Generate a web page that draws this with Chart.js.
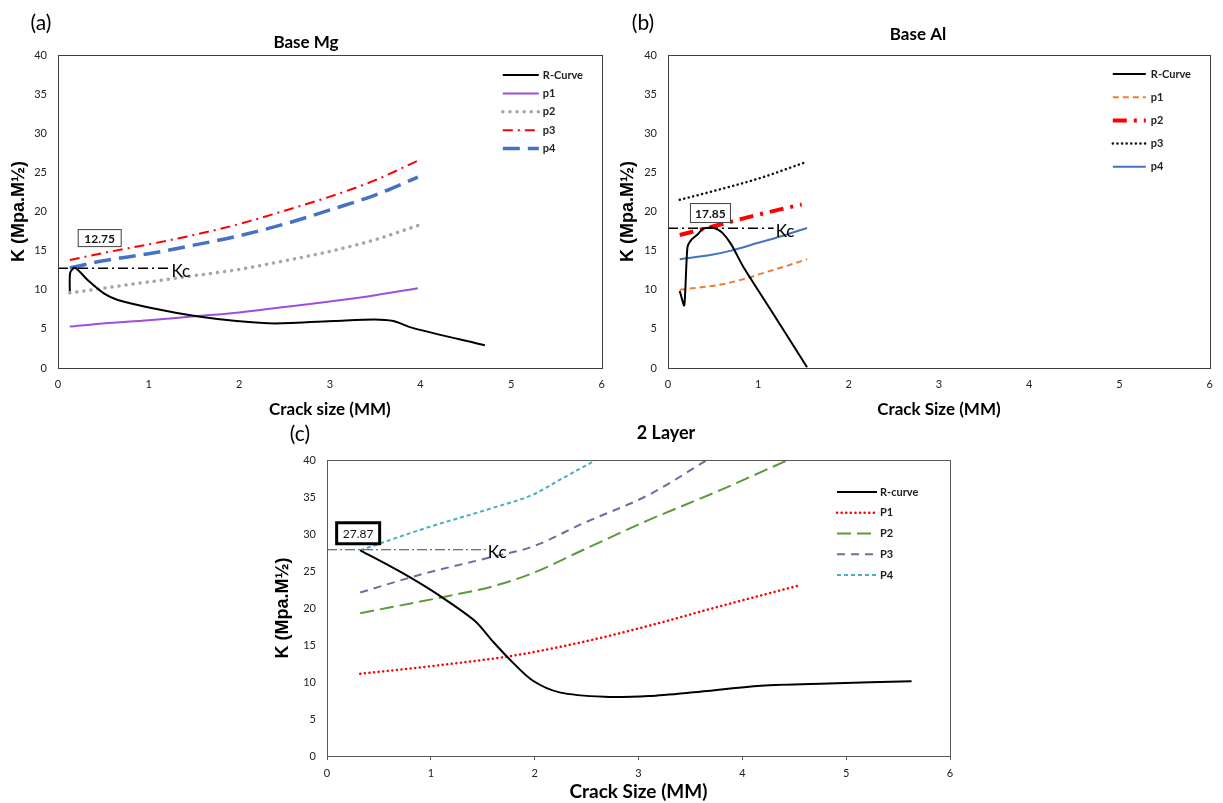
<!DOCTYPE html>
<html>
<head>
<meta charset="utf-8">
<script src="https://cdn.jsdelivr.net/npm/chart.js@4.4.1/dist/chart.umd.min.js"></script>
<style>
html, body { margin: 0; padding: 0; background: #fff; }
body { width: 1223px; height: 803px; position: relative; overflow: hidden; }
.panel { position: absolute; }
</style>
</head>
<body>
<div class="panel" style="left:0;top:0"><canvas id="chartMg" width="615" height="420"></canvas></div>
<div class="panel" style="left:615px;top:0"><canvas id="chartAl" width="608" height="420"></canvas></div>
<div class="panel" style="left:270px;top:420px"><canvas id="chartLayer" width="700" height="383"></canvas></div>
<script>
// (a) Base Mg
const mgCurveX = [0.13, 0.135, 0.19, 0.33, 0.51, 0.66, 1.1, 1.53, 1.97, 2.4, 3.05, 3.49, 3.7, 3.92, 4.71];
const mgCurveK = [9.8, 12.2, 12.8, 11.2, 9.5, 8.7, 7.5, 6.6, 6.0, 5.7, 6.0, 6.2, 6.0, 5.1, 2.9];
const mgLoadX = [0.13, 0.5, 1, 1.5, 2, 2.5, 3, 3.5, 3.97];
const mgP1 = [5.3, 5.7, 6.1, 6.6, 7.1, 7.8, 8.5, 9.3, 10.2];
const mgP2 = [9.6, 10.2, 11.0, 11.8, 12.6, 13.7, 14.9, 16.4, 18.2];
const mgP3 = [13.8, 14.7, 15.8, 17.0, 18.4, 20.1, 21.9, 24.0, 26.5];
const mgP4 = [12.8, 13.7, 14.6, 15.7, 16.9, 18.4, 20.2, 22.1, 24.4];
const mgKc = 12.75, mgKcEnd = 1.23;

// (b) Base Al
const alCurveX = [0.13, 0.18, 0.215, 0.26, 0.33, 0.375, 0.42, 0.51, 0.6, 0.7, 0.84, 1.2, 1.54];
const alCurveK = [9.85, 8.0, 15.4, 16.4, 17.1, 17.7, 17.9, 17.9, 17.3, 15.8, 12.8, 6.3, 0.1];
const alP1X = [0.13, 0.35, 0.6, 0.85, 1.1, 1.3, 1.54];
const alP1 = [10.0, 10.3, 10.7, 11.4, 12.3, 13.0, 13.9];
const alP2X = [0.13, 0.6, 1.0, 1.48];
const alP2 = [17.0, 18.4, 19.6, 20.9];
const alP3X = [0.13, 0.5, 1.0, 1.5];
const alP3 = [21.5, 22.6, 24.2, 26.2];
const alP4X = [0.13, 0.5, 0.7, 1.0, 1.3, 1.54];
const alP4 = [13.9, 14.5, 15.0, 16.0, 17.0, 17.9];
const alKc = 17.85, alKcEnd = 1.17;

// (c) 2 Layer
const lyCurveX = [0.32, 0.73, 1.08, 1.42, 1.59, 1.77, 1.98, 2.24, 2.67, 3.1, 3.53, 4.18, 4.83, 5.63];
const lyCurveK = [27.8, 24.7, 21.7, 18.3, 15.6, 12.9, 10.2, 8.6, 8.0, 8.1, 8.6, 9.5, 9.8, 10.1];
const lyP1X = [0.32, 1.16, 1.81, 2.46, 3.1, 3.75, 4.56];
const lyP1 = [11.1, 12.4, 13.6, 15.4, 17.6, 20.1, 23.1];
const lyP2X = [0.32, 1.16, 1.59, 1.98, 2.46, 3.1, 3.75, 4.44];
const lyP2 = [19.3, 21.6, 22.9, 24.7, 27.8, 31.9, 35.7, 40];
const lyP3X = [0.32, 0.95, 1.59, 1.98, 2.46, 3.1, 3.66];
const lyP3 = [22.1, 24.7, 26.9, 28.3, 31.4, 35.3, 40];
const lyP4X = [0.32, 0.95, 1.59, 1.98, 2.24, 2.59];
const lyP4 = [27.8, 30.8, 33.5, 35.3, 37.3, 40];
const lyKc = 27.87, lyKcEnd = 1.53;

const xTicks = [0, 6, 1];
const yTicks = [0, 40, 5];

const pts = (xs, ys) => xs.map((v, i) => ({x: v, y: ys[i]}));
const flat = (xs, k) => xs.map(v => ({x: v, y: k}));

// titles, frame, legend, Kc label and value box
const decor = {
  id: 'decor',
  afterDraw(chart, args, o) {
    const {ctx, chartArea: a, scales: {x, y}} = chart;
    ctx.save();
    ctx.setLineDash([]);
    ctx.strokeStyle = o.frame;
    ctx.lineWidth = 1;
    ctx.strokeRect(Math.round(a.left) + 0.5, Math.round(a.top) + 0.5, Math.round(a.right - a.left), Math.round(a.bottom - a.top));

    ctx.fillStyle = '#000';
    ctx.textAlign = 'center';
    ctx.textBaseline = 'middle';
    ctx.font = o.titleFont;
    ctx.fillText(o.title, o.titlePos[0], o.titlePos[1]);
    ctx.font = '21px Lato';
    ctx.fillText(o.letter, o.letterPos[0], o.letterPos[1]);

    // legend
    const lg = o.legend;
    let row = 0;
    ctx.textAlign = 'left';
    ctx.font = 'bold 11px Lato';
    chart.data.datasets.forEach(ds => {
      if (!ds.label) return;
      const yy = a.top + lg.top + row * lg.gap;
      ctx.strokeStyle = ds.borderColor;
      ctx.lineWidth = ds.borderWidth;
      ctx.lineCap = ds.borderCapStyle || 'butt';
      ctx.setLineDash(ds.borderDash || []);
      ctx.beginPath();
      ctx.moveTo(a.right - lg.start, yy);
      ctx.lineTo(a.right - lg.end, yy);
      ctx.stroke();
      ctx.fillStyle = '#222';
      ctx.fillText(ds.label, a.right - lg.text, yy);
      row++;
    });

    // Kc label
    ctx.setLineDash([]);
    ctx.lineCap = 'butt';
    ctx.fillStyle = '#000';
    ctx.font = '17px Lato';
    ctx.fillText('Kc', x.getPixelForValue(o.kcEnd) + 2, y.getPixelForValue(o.kc) + 3);

    // value box
    const b = o.box;
    const cx = x.getPixelForValue(b.x), cy = y.getPixelForValue(b.y);
    ctx.fillStyle = '#fff';
    ctx.fillRect(cx - b.w / 2, cy - b.h / 2, b.w, b.h);
    ctx.strokeStyle = b.color;
    ctx.lineWidth = b.lw;
    ctx.strokeRect(cx - b.w / 2, cy - b.h / 2, b.w, b.h);
    ctx.fillStyle = '#111';
    ctx.textAlign = 'center';
    ctx.font = b.font;
    ctx.fillText(b.text, cx, cy + 1);
    ctx.restore();
  }
};

function scalesFor(xTitle, xSize, yWidth, xHeight, yTitlePad, xTickMarks) {
  return {
    x: {
      type: 'linear', min: xTicks[0], max: xTicks[1],
      ticks: {stepSize: xTicks[2], padding: xTickMarks ? 7 : 10, color: '#222', font: {family: 'Lato', size: 11}},
      grid: xTickMarks ? {display: true, drawOnChartArea: false, drawTicks: true, tickLength: 4, color: '#595959'} : {display: false, drawTicks: false},
      border: {display: false},
      title: {display: true, text: xTitle, color: '#000', font: {family: 'Lato', size: xSize, weight: 'bold'}, padding: {top: 0, bottom: 0}},
      afterFit(s) { s.height = xHeight; }
    },
    y: {
      min: yTicks[0], max: yTicks[1],
      ticks: {stepSize: yTicks[2], padding: 11, color: '#222', font: {family: 'Lato', size: 11}},
      grid: {display: false, drawTicks: false},
      border: {display: false},
      title: {display: true, text: 'K (Mpa.M½)', color: '#000', font: {family: 'Liberation Sans', size: 18, weight: 'bold'}, padding: {top: yTitlePad, bottom: 0}},
      afterFit(s) { s.width = yWidth; }
    }
  };
}

// smooth = true -> monotone curve (load lines), otherwise plain spline tension
function line(label, data, color, width, dash, cap, tension, smooth) {
  return {
    label: label, data: data, borderColor: color, backgroundColor: color,
    borderWidth: width, borderDash: dash, borderCapStyle: cap || 'butt',
    pointRadius: 0, fill: false,
    tension: tension === undefined ? 0.4 : tension,
    cubicInterpolationMode: smooth === false ? 'default' : 'monotone'
  };
}

new Chart(document.getElementById('chartMg'), {
  type: 'line',
  data: {
    datasets: [
      line('', flat([0, mgKcEnd], mgKc), '#000', 1.5, [10, 4, 2, 4], 'butt', 0, false),
      line('R-Curve', pts(mgCurveX, mgCurveK), '#000', 2, [], 'butt', 0.25, false),
      line('p1', pts(mgLoadX, mgP1), '#9E4FE0', 2, []),
      line('p2', pts(mgLoadX, mgP2), '#A6A6A6', 3.5, [0.1, 7], 'round'),
      line('p3', pts(mgLoadX, mgP3), '#FF0000', 2, [10, 5, 2, 5]),
      line('p4', pts(mgLoadX, mgP4), '#4472C4', 3.5, [17, 8])
    ]
  },
  options: {
    responsive: false, animation: false,
    layout: {padding: {top: 55, right: 9, left: 0, bottom: 0}},
    scales: scalesFor('Crack size (MM)', 17, 58, 52, 8, false),
    plugins: {
      legend: {display: false}, tooltip: {enabled: false},
      decor: {
        frame: '#404040', title: 'Base Mg', titleFont: 'bold 17px Lato', titlePos: [306, 43],
        letter: '(a)', letterPos: [41, 23],
        legend: {start: 99, end: 63, text: 59, top: 20, gap: 18.4},
        kc: mgKc, kcEnd: mgKcEnd,
        box: {x: 0.46, y: 16.6, w: 43, h: 17, text: '12.75', font: 'bold 12px Lato', color: '#404040', lw: 1}
      }
    }
  },
  plugins: [decor]
});

new Chart(document.getElementById('chartAl'), {
  type: 'line',
  data: {
    datasets: [
      line('', flat([0, alKcEnd], alKc), '#000', 1.5, [10, 4, 2, 4], 'butt', 0, false),
      line('R-Curve', pts(alCurveX, alCurveK), '#000', 2, [], 'butt', 0.2, false),
      line('p1', pts(alP1X, alP1), '#ED7D31', 2, [6, 4]),
      line('p2', pts(alP2X, alP2), '#FF0000', 4, [14, 7, 3, 7]),
      line('p3', pts(alP3X, alP3), '#111', 2.5, [0.1, 4.5], 'round'),
      line('p4', pts(alP4X, alP4), '#4472C4', 2, [])
    ]
  },
  options: {
    responsive: false, animation: false,
    layout: {padding: {top: 55, right: 6, left: 0, bottom: 0}},
    scales: scalesFor('Crack Size (MM)', 17, 53, 52, 2, false),
    plugins: {
      legend: {display: false}, tooltip: {enabled: false},
      decor: {
        frame: '#404040', title: 'Base Al', titleFont: 'bold 17px Lato', titlePos: [303, 35],
        letter: '(b)', letterPos: [28, 23],
        legend: {start: 97, end: 64, text: 59, top: 19, gap: 23.2},
        kc: alKc, kcEnd: alKcEnd,
        box: {x: 0.47, y: 19.8, w: 40, h: 19, text: '17.85', font: 'bold 12px Lato', color: '#404040', lw: 1}
      }
    }
  },
  plugins: [decor]
});

new Chart(document.getElementById('chartLayer'), {
  type: 'line',
  data: {
    datasets: [
      line('', flat([0, lyKcEnd], lyKc), '#444', 1, [10, 3, 2, 3], 'butt', 0, false),
      line('R-curve', pts(lyCurveX, lyCurveK), '#000', 2, [], 'butt', 0.3, false),
      line('P1', pts(lyP1X, lyP1), '#FF0000', 2.5, [0.1, 4.5], 'round'),
      line('P2', pts(lyP2X, lyP2), '#5B9A3A', 2, [14, 6]),
      line('P3', pts(lyP3X, lyP3), '#8064A2', 2, [8, 6]),
      line('P4', pts(lyP4X, lyP4), '#4BACC6', 2, [4, 3])
    ]
  },
  options: {
    responsive: false, animation: false,
    layout: {padding: {top: 40, right: 20, left: 0, bottom: 0}},
    scales: scalesFor('Crack Size (MM)', 19, 57, 47, 2, true),
    plugins: {
      legend: {display: false}, tooltip: {enabled: false},
      decor: {
        frame: '#595959', title: '2 Layer', titleFont: 'bold 18px Lato', titlePos: [396, 13],
        letter: '(c)', letterPos: [30, 14],
        legend: {start: 113, end: 73, text: 70, top: 32, gap: 20.75},
        kc: lyKc, kcEnd: lyKcEnd,
        box: {x: 0.30, y: 30.1, w: 43, h: 21, text: '27.87', font: '12px Lato', color: '#000', lw: 3}
      }
    }
  },
  plugins: [decor]
});
</script>
</body>
</html>
